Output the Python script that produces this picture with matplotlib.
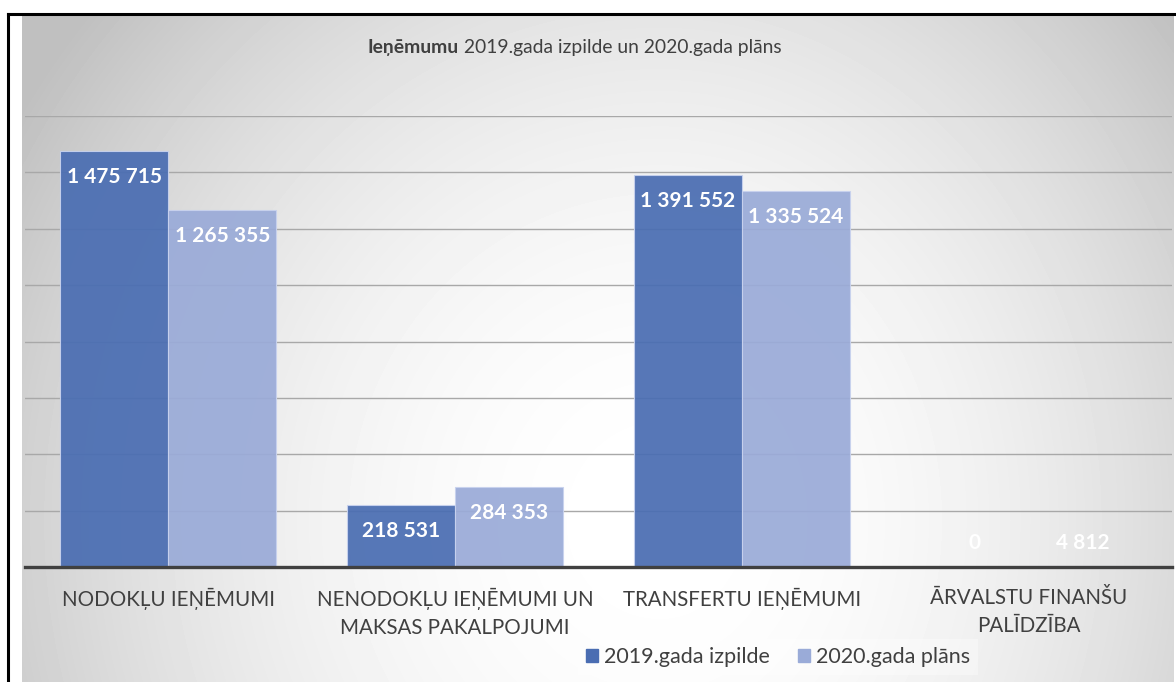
import numpy as np
import matplotlib
matplotlib.use("Agg")
import matplotlib.pyplot as plt
from matplotlib.lines import Line2D
from matplotlib.patches import Rectangle

plt.rcParams['font.family'] = ['Lato', 'DejaVu Sans']

categories = ["NODOKĻU IEŅĒMUMI", "NENODOKĻU IEŅĒMUMI UN\nMAKSAS PAKALPOJUMI",
              "TRANSFERTU IEŅĒMUMI", "ĀRVALSTU FINANŠU\nPALĪDZĪBA"]
series_names = ["2019.gada izpilde", "2020.gada plāns"]
values_2019 = [1475715, 218531, 1391552, 0]
values_2020 = [1265355, 284353, 1335524, 4812]
value_labels_2019 = ["1 475 715", "218 531", "1 391 552", "0"]
value_labels_2020 = ["1 265 355", "284 353", "1 335 524", "4 812"]
y_ticks = [0, 200000, 400000, 600000, 800000, 1000000, 1200000, 1400000, 1600000]

W, H = 1176, 682
fig = plt.figure(figsize=(W / 100, H / 100), dpi=100)
fig.patch.set_facecolor('white')

# background gradient
bx0, by0, bx1, by1 = 22, 15, 1174, 682
bg = fig.add_axes([bx0 / W, 1 - by1 / H, (bx1 - bx0) / W, (by1 - by0) / H])
xs = np.arange(bx0, bx1)
ys = np.arange(by0, by1)
X, Y = np.meshgrid(xs, ys)
cx, cy = 660, 520
ax_r = np.where(X < cx, 620.0, 560.0)
r = np.sqrt(((X - cx) / ax_r) ** 2 + ((Y - cy) / 650.0) ** 2)
val = np.clip(1 - 0.17 * r ** 2, 0.75, 1.0)
bg.imshow(val, cmap='gray', vmin=0, vmax=1, aspect='auto', interpolation='bilinear')
bg.set_axis_off()

# border lines
fig.add_artist(Line2D([8 / W, 8 / W], [0, 1 - 14 / H], color='black', lw=2.2,
                      transform=fig.transFigure))
fig.add_artist(Line2D([8 / W, 1], [1 - 14 / H, 1 - 14 / H], color='black', lw=2.2,
                      transform=fig.transFigure))

# main axes
left, right, top, base = 25, 1172, 116, 567
ax = fig.add_axes([left / W, 1 - base / H, (right - left) / W, (base - top) / H])
ax.set_facecolor('none')
x = np.arange(len(categories))
bw = 0.377
c1, c2 = '#4a6db2', '#9aabd8'
ax.bar(x - bw / 2, values_2019, bw, color=c1, alpha=0.93, edgecolor='#c8d2ee', lw=0.8, zorder=3)
ax.bar(x + bw / 2, values_2020, bw, color=c2, alpha=0.93, edgecolor='#c8d2ee', lw=0.8, zorder=3)
ax.set_xlim(-0.5, len(categories) - 0.5)
ax.set_ylim(0, y_ticks[-1])
for t in y_ticks[1:]:
    ax.axhline(t, color='#a8a8a8', lw=1.0, zorder=1)
ax.axhline(0, color='#404040', lw=2.4, zorder=4, clip_on=False)
for s in ax.spines.values():
    s.set_visible(False)
ax.set_yticks([])
ax.set_xticks(x)
ax.set_xticklabels(categories, fontsize=14.8, color='#404040', linespacing=1.5)
ax.tick_params(axis='x', length=0, pad=15)

px_per_unit = (base - top) / y_ticks[-1]


def label_bars(xpos, vals, labels):
    for xi, v, lab in zip(xpos, vals, labels):
        hpx = v * px_per_unit
        if hpx > 52:
            xy, off = (xi, v), -26
        else:
            xy, off = (xi, 0), 24
        ax.annotate(lab, xy, xytext=(0, off), textcoords='offset pixels',
                    ha='center', va='center', fontsize=15, fontweight='bold',
                    color='white', zorder=5)


label_bars(x - bw / 2, values_2019, value_labels_2019)
label_bars(x + bw / 2, values_2020, value_labels_2020)

# title
t1 = fig.text(0, 0, "Ieņēmumu", fontsize=13.9, fontweight='bold', color='#404040', va='center')
t2 = fig.text(0, 0, " 2019.gada izpilde un 2020.gada plāns", fontsize=13.9, color='#404040', va='center')
fig.canvas.draw()
rend = fig.canvas.get_renderer()
w1 = t1.get_window_extent(rend).width
w2 = t2.get_window_extent(rend).width
start = 574.5 - (w1 + w2) / 2
t1.set_position((start / W, 1 - 47 / H))
t2.set_position(((start + w1) / W, 1 - 47 / H))

# legend
handles = [Rectangle((0, 0), 1, 1, color=c1), Rectangle((0, 0), 1, 1, color=c2)]
leg = fig.legend(handles, series_names, loc='center', bbox_to_anchor=(778 / W, 1 - 657 / H),
                 ncol=2, frameon=True, fontsize=15.5, handlelength=0.55, handleheight=0.55,
                 handletextpad=0.3, columnspacing=1.3, borderpad=0.35, labelcolor='#404040')
leg.get_frame().set_facecolor('white')
leg.get_frame().set_alpha(0.35)
leg.get_frame().set_edgecolor('none')
leg.get_frame().set_boxstyle('square', pad=0)

fig.savefig('out.png', dpi=100)
